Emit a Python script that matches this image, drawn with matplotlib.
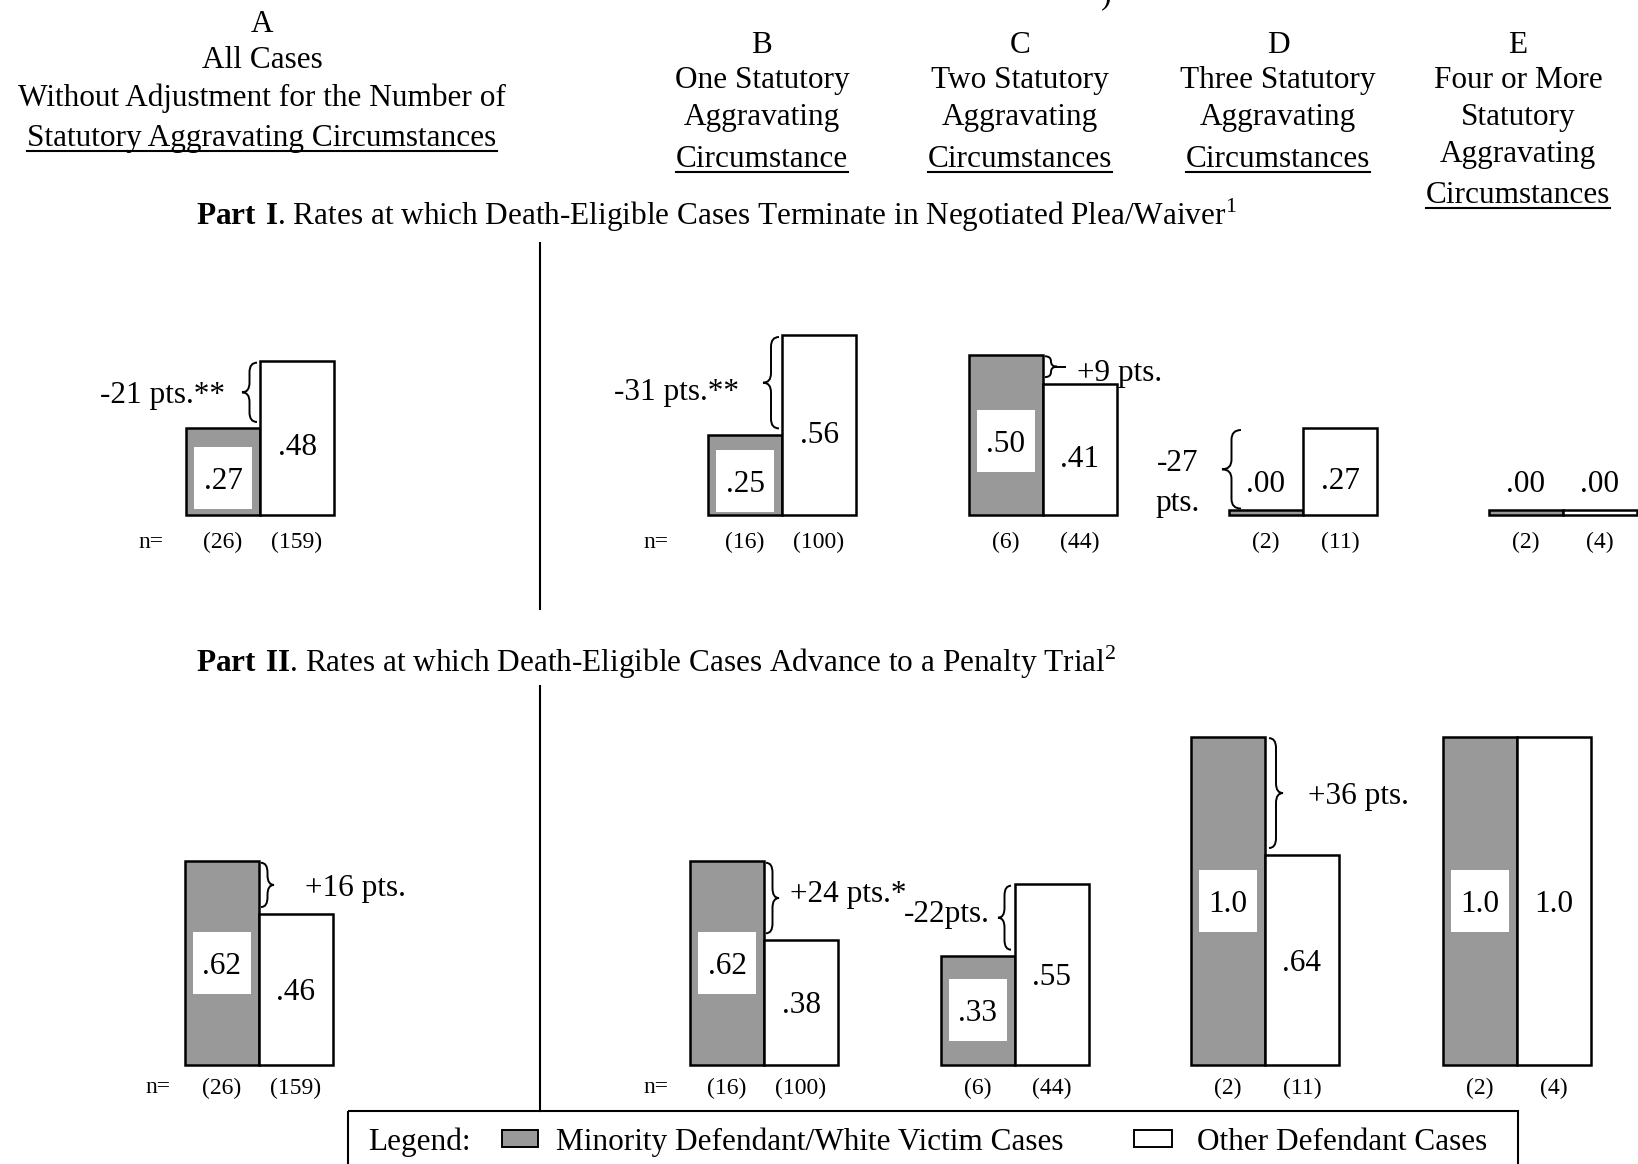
import numpy as np
import matplotlib.pyplot as plt
from matplotlib.patches import Rectangle, PathPatch
from matplotlib.path import Path

plt.rcParams['font.family'] = 'Liberation Serif'
plt.rcParams['mathtext.fontset'] = 'custom'
plt.rcParams['mathtext.rm'] = 'Liberation Serif'
plt.rcParams['mathtext.bf'] = 'Liberation Serif:bold'

# Données
groupes = ['A', 'B', 'C', 'D', 'E']

plea_min = [0.27, 0.25, 0.50, 0.00, 0.00]
plea_autres = [0.48, 0.56, 0.41, 0.27, 0.00]
plea_lab_min = ['.27', '.25', '.50', '.00', '.00']
plea_lab_autres = ['.48', '.56', '.41', '.27', '.00']
plea_n_min = [26, 16, 6, 2, 2]
plea_n_autres = [159, 100, 44, 11, 4]
plea_ecarts = ['-21 pts.**', '-31 pts.**', '+9 pts.', '-27\npts.', None]

trial_min = [0.62, 0.62, 0.33, 1.0, 1.0]
trial_autres = [0.46, 0.38, 0.55, 0.64, 1.0]
trial_lab_min = ['.62', '.62', '.33', '1.0', '1.0']
trial_lab_autres = ['.46', '.38', '.55', '.64', '1.0']
trial_n_min = [26, 16, 6, 2, 2]
trial_n_autres = [159, 100, 44, 11, 4]
trial_ecarts = ['+16 pts.', '+24 pts.*', '-22pts.', '+36 pts.', None]

entetes = [
    ['A', 'All Cases', 'Without Adjustment for the Number of',
     'Statutory Aggravating Circumstances'],
    ['B', 'One Statutory', 'Aggravating', 'Circumstance'],
    ['C', 'Two Statutory', 'Aggravating', 'Circumstances'],
    ['D', 'Three Statutory', 'Aggravating', 'Circumstances'],
    ['E', 'Four or More', 'Statutory', 'Aggravating', 'Circumstances'],
]

titre_1 = r'$\mathbf{Part\ I}$. Rates at which Death-Eligible Cases Terminate in Negotiated Plea/Waiver$^{1}$'
titre_2 = r'$\mathbf{Part\ II}$. Rates at which Death-Eligible Cases Advance to a Penalty Trial$^{2}$'

leg_min = 'Minority Defendant/White Victim Cases'
leg_autres = 'Other Defendant Cases'

# Mise en page (pixels)
W, H = 1638, 1164
GRIS = '#999999'
FS = 22.5
FSN = 17
VA = 'center_baseline'
bw = 74

x_plea = [260, 782, 1043, 1303, 1563]
x_trial = [259, 764, 1015, 1265, 1517]

x_entetes = [262, 762, 1020, 1278, 1518]
y_entetes = [[21, 57, 95, 135], [42, 77, 114, 156], [42, 77, 114, 156],
             [42, 77, 114, 156], [42, 77, 114, 151, 192]]


def accolade(ax, x0, bas, haut, prof, q=0.03, queue=0):
    """Accolade verticale, pointe vers la droite si prof > 0"""
    q = min(q, (haut - bas) / 4)
    mil = (haut + bas) / 2
    xm = x0 + prof / 2
    xt = x0 + prof
    verts = [(x0, haut), (xm, haut), (xm, haut - q), (xm, mil + q),
             (xm, mil), (xt, mil), (xm, mil), (xm, mil - q),
             (xm, bas + q), (xm, bas), (x0, bas)]
    codes = [Path.MOVETO, Path.CURVE3, Path.CURVE3, Path.LINETO,
             Path.CURVE3, Path.CURVE3, Path.CURVE3, Path.CURVE3,
             Path.LINETO, Path.CURVE3, Path.CURVE3]
    ax.add_patch(PathPatch(Path(verts, codes), fill=False, lw=1.4,
                           clip_on=False))
    if queue:
        ax.plot([xt, xt + queue], [mil, mil], color='black', lw=1.4,
                clip_on=False)
    return xt + queue, mil


def dessiner_partie(ax, xf, v_min, v_aut, lab_min, lab_aut, n_min, n_aut,
                    ecarts, y_n, x_neq, dy_lab, boite_h, annot):
    xf = np.array(xf, dtype=float)
    v_min = np.array(v_min)
    v_aut = np.array(v_aut)
    # barres (épaisseur minimale pour les valeurs nulles)
    ax.bar(xf - bw / 2, np.maximum(v_min, 0.016), width=bw, color=GRIS,
           edgecolor='black', linewidth=1.8, clip_on=False)
    ax.bar(xf + bw / 2, np.maximum(v_aut, 0.016), width=bw, color='white',
           edgecolor='black', linewidth=1.8, clip_on=False)

    for i in range(len(xf)):
        xg, xb = xf[i] - bw / 2, xf[i] + bw / 2
        # étiquette barre grise
        if v_min[i] > 0:
            yl = v_min[i] / 2 + dy_lab
            ax.add_patch(Rectangle((xg - 29, yl - boite_h / 2), 58, boite_h,
                                   fc='white', ec='none', clip_on=False))
        else:
            yl = 0.105
        ax.text(xg, yl, lab_min[i], ha='center', va=VA, fontsize=FS)
        # étiquette barre blanche
        yl = v_aut[i] / 2 + dy_lab if v_aut[i] > 0 else 0.105
        ax.text(xb, yl, lab_aut[i], ha='center', va=VA, fontsize=FS)
        # effectifs
        ax.text(xg, y_n, f'({n_min[i]})', ha='center', va=VA, fontsize=FSN)
        ax.text(xb, y_n, f'({n_aut[i]})', ha='center', va=VA, fontsize=FSN)

        # écarts avec accolades
        if ecarts[i] is None:
            continue
        dx0, prof, gap, dy, queue = annot[i]
        haut = max(v_min[i], v_aut[i]) - 0.005
        bas = min(v_min[i], v_aut[i]) + 0.02
        xt, mil = accolade(ax, xf[i] + dx0, bas, haut, prof, queue=queue)
        if '\n' in ecarts[i]:
            ax.text(xt - gap, mil - 0.045 + dy, ecarts[i], ha='center',
                    va='center', fontsize=FS, linespacing=1.5)
        elif prof > 0:
            ax.text(xt + gap, mil + dy, ecarts[i], ha='left', va=VA,
                    fontsize=FS)
        else:
            ax.text(xt - gap, mil + dy, ecarts[i], ha='right', va=VA,
                    fontsize=FS)

    for xn in x_neq:
        ax.text(xn, y_n, 'n=', ha='center', va=VA, fontsize=FSN)


fig = plt.figure(figsize=(W / 100, H / 100), dpi=100)
ax0 = fig.add_axes([0, 0, 1, 1])
ax0.set_xlim(0, W)
ax0.set_ylim(H, 0)
ax0.axis('off')

# En-têtes de colonnes
soulignes = []
for xc, lignes, ys in zip(x_entetes, entetes, y_entetes):
    for lig, y in zip(lignes, ys):
        t = ax0.text(xc, y, lig, ha='center', va=VA, fontsize=FS)
    soulignes.append((t, ys[-1]))

ax0.text(1106, 3, ')', ha='center', va='baseline', fontsize=FS)

# Titres des parties
ax0.text(196, 211, titre_1, ha='left', va=VA, fontsize=FS)
ax0.text(196, 658, titre_2, ha='left', va=VA, fontsize=FS)

# Séparateurs verticaux
ax0.plot([540, 540], [243, 609], color='black', lw=1.5)
ax0.plot([540, 540], [686, 1111], color='black', lw=1.5)

# Légende
ax0.add_patch(Rectangle((348, 1111), 1170, 80, fill=False, lw=1.5,
                        clip_on=False))
ax0.text(368, 1139, 'Legend:', ha='left', va=VA, fontsize=FS)
ax0.add_patch(Rectangle((502, 1130), 36, 17, fc=GRIS, ec='black', lw=1.4))
ax0.text(556, 1139, leg_min, ha='left', va=VA, fontsize=FS)
ax0.add_patch(Rectangle((1134, 1130), 38, 17, fc='white', ec='black', lw=1.4))
ax0.text(1197, 1139, leg_autres, ha='left', va=VA, fontsize=FS)

# Partie I
base1, ech1 = 515, 320.7
ax1 = fig.add_axes([0, 1 - base1 / H, 1, ech1 / H])
ax1.set_xlim(0, W)
ax1.set_ylim(0, 1)
ax1.axis('off')
annot1 = [(-3, -15, 17, 0.0, 0), (-3, -16, 24, -0.02, 0),
          (2, 12, 12, -0.01, 8), (-62, -19, 44, 0.0, 0), None]
dessiner_partie(ax1, x_plea, plea_min, plea_autres, plea_lab_min,
                plea_lab_autres, plea_n_min, plea_n_autres, plea_ecarts,
                -0.078, [151, 656], -0.02, 62 / ech1, annot1)

# Partie II
base2, ech2 = 1064.5, 328
ax2 = fig.add_axes([0, 1 - base2 / H, 1, ech2 / H])
ax2.set_xlim(0, W)
ax2.set_ylim(0, 1)
ax2.axis('off')
annot2 = [(2, 13, 31, 0.0, 0), (2, 13, 11, 0.02, 0),
          (-4, -13, 8, 0.02, 0), (4, 14, 25, 0.0, 0), None]
dessiner_partie(ax2, x_trial, trial_min, trial_autres, trial_lab_min,
                trial_lab_autres, trial_n_min, trial_n_autres, trial_ecarts,
                -0.064, [158, 656], 0.0, 62 / ech2, annot2)

# Soulignement des dernières lignes d'en-tête
fig.canvas.draw()
rend = fig.canvas.get_renderer()
inv = ax0.transData.inverted()
for t, y in soulignes:
    bb = t.get_window_extent(rend)
    xa, _ = inv.transform((bb.x0, bb.y0))
    xb, _ = inv.transform((bb.x1, bb.y0))
    ax0.plot([xa, xb], [y + 16, y + 16], color='black', lw=1.5)

fig.savefig('out.png', dpi=100)
